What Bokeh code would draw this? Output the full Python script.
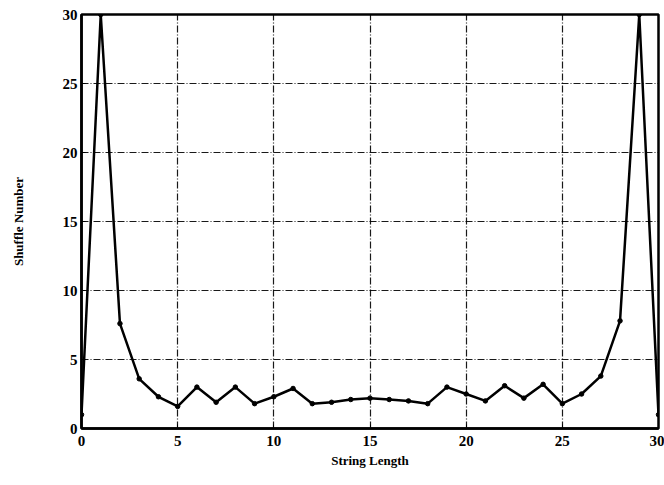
from bokeh.plotting import figure
from bokeh.embed import file_html
from bokeh.resources import INLINE
from bokeh.models import FixedTicker, Range1d

string_length = list(range(0, 31))
shuffle_number = [1.0, 30.0, 7.6, 3.6, 2.3, 1.6, 3.0, 1.9, 3.0, 1.8, 2.3,
                  2.9, 1.8, 1.9, 2.1, 2.2, 2.1, 2.0, 1.8, 3.0, 2.5,
                  2.0, 3.1, 2.2, 3.2, 1.8, 2.5, 3.8, 7.8, 30.0, 1.0]
ticks = [0, 5, 10, 15, 20, 25, 30]

p = figure(width=664, height=478, output_backend="svg", toolbar_location=None,
           x_range=Range1d(0, 30), y_range=Range1d(0, 30),
           min_border_left=81, min_border_right=6, min_border_top=14, min_border_bottom=50)

p.line(string_length, shuffle_number, line_color="black", line_width=2.5)
p.scatter(string_length, shuffle_number, size=4.5, color="black")

for ax in (p.xaxis, p.yaxis):
    ax.ticker = FixedTicker(ticks=ticks)
    ax.axis_line_color = "black"
    ax.axis_line_width = 2.5
    ax.major_tick_in = 4
    ax.major_tick_out = 0
    ax.minor_tick_line_color = None
    ax.major_tick_line_color = "black"
    ax.major_label_text_font = "Liberation Serif"
    ax.major_label_text_font_style = "bold"
    ax.major_label_text_font_size = "15px"
    ax.major_label_text_color = "black"
    ax.axis_label_text_font = "Liberation Serif"
    ax.axis_label_text_font_style = "bold"
    ax.axis_label_text_font_size = "13px"
    ax.axis_label_text_color = "black"

p.xaxis.axis_label = "String Length"
p.yaxis.axis_label = "Shuffle Number"
p.xaxis.major_label_standoff = 7
p.xaxis.axis_label_standoff = 4
p.yaxis.major_label_standoff = 4
p.yaxis.axis_label_standoff = 34

for g in (p.xgrid, p.ygrid):
    g.ticker = FixedTicker(ticks=ticks)
    g.grid_line_color = "black"
    g.grid_line_width = 1.2
    g.grid_line_dash = "7 2 1 2"
    g.grid_line_alpha = 0.9

p.outline_line_color = "black"
p.outline_line_width = 2.5
p.background_fill_color = "white"
p.border_fill_color = "white"

open("out.html", "w").write(file_html(p, INLINE))
